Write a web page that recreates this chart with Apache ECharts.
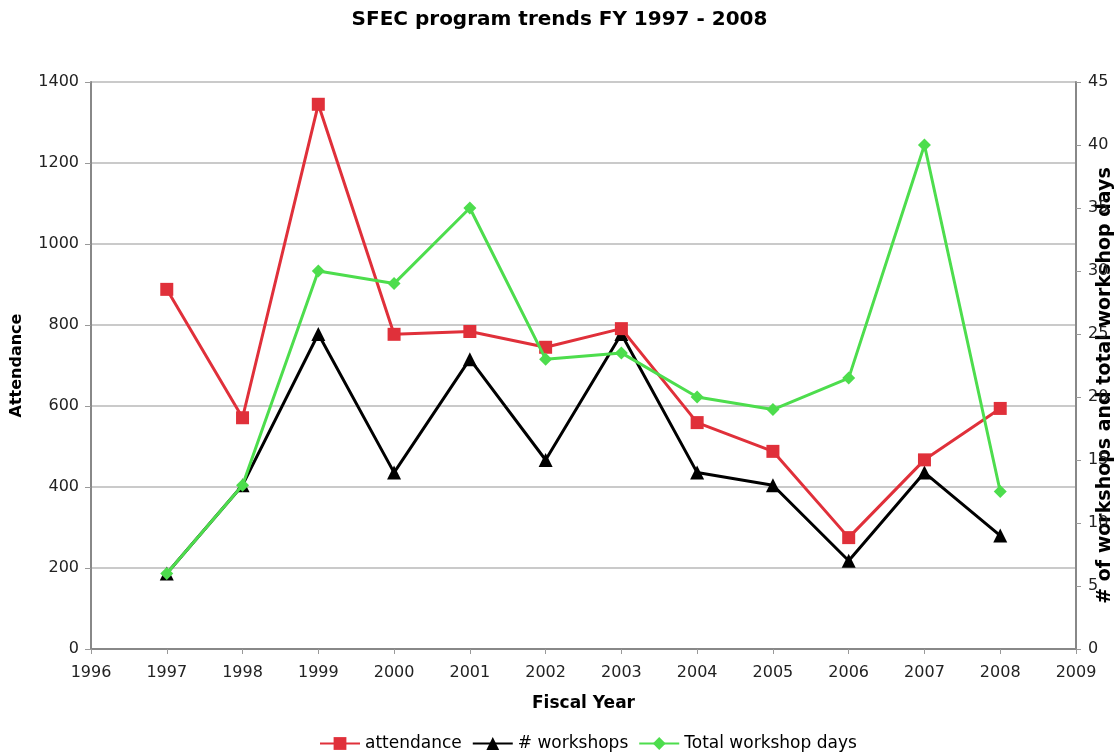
<!DOCTYPE html>
<html>
<head>
<meta charset="utf-8">
<script src="https://cdn.jsdelivr.net/npm/echarts@6/dist/echarts.min.js"></script>
<style>html,body{margin:0;padding:0;background:#fff;}#c{width:1119px;height:755px;}</style>
</head>
<body>
<div id="c"></div>
<script>
const years = [1997,1998,1999,2000,2001,2002,2003,2004,2005,2006,2007,2008];
const attendance = [888,571,1345,777,784,745,791,559,488,275,467,594];
const workshops = [6,13,25,14,23,15,25,14,13,7,14,9];
const workshopDays = [6,13,30,29,35,23,23.5,20,19,21.5,40,12.5];
const seriesNames = ['attendance','# workshops','Total workshop days'];
const leftTicks = {min:0,max:1400,interval:200};
const rightTicks = {min:0,max:45,interval:5};
const xTicks = {min:1996,max:2009,interval:1};

const font = "'DejaVu Sans', Verdana, sans-serif";
const pair = (arr) => years.map((y,i)=>[y,arr[i]]);
const chart = echarts.init(document.getElementById('c'));
chart.setOption({
  animation:false,
  backgroundColor:'#fff',
  title:{text:'SFEC program trends FY 1997 - 2008',left:'center',top:5,
    textStyle:{fontFamily:font,fontSize:20,fontWeight:'bold',color:'#000'}},
  grid:{left:91,right:43,top:82,bottom:106,containLabel:false,outerBoundsMode:'none'},
  legend:{top:730,left:314,itemWidth:40,itemHeight:16,itemGap:10,
    textStyle:{fontFamily:font,fontSize:17,color:'#000'},
    data:seriesNames},
  xAxis:{type:'value',min:xTicks.min,max:xTicks.max,interval:xTicks.interval,
    name:'Fiscal Year',nameLocation:'middle',nameGap:46,
    nameTextStyle:{fontFamily:font,fontSize:17,fontWeight:'bold',color:'#000'},
    axisLine:{lineStyle:{color:'#888',width:2}},
    axisTick:{show:true,inside:false,length:5,lineStyle:{color:'#999'}},
    axisLabel:{fontFamily:font,fontSize:16,color:'#222',margin:16,formatter:v=>String(v)},
    splitLine:{show:false}},
  yAxis:[
    {type:'value',position:'left',min:leftTicks.min,max:leftTicks.max,interval:leftTicks.interval,
     name:'Attendance',nameLocation:'middle',nameGap:66,nameRotate:90,
     nameTextStyle:{fontFamily:font,fontSize:16,fontWeight:'bold',color:'#000'},
     axisLine:{show:true,lineStyle:{color:'#888',width:2}},
     axisTick:{show:true,length:6,lineStyle:{color:'#999'}},
     axisLabel:{fontFamily:font,fontSize:16,color:'#222',margin:12,formatter:v=>String(v)},
     splitLine:{show:true,lineStyle:{color:'#b8b8b8',width:1.5}}},
    {type:'value',position:'right',min:rightTicks.min,max:rightTicks.max,interval:rightTicks.interval,
     name:'# of workshops and total workshop days',nameLocation:'middle',nameGap:20,nameRotate:90,
     nameMoveOverlap:false,
     nameTextStyle:{fontFamily:font,fontSize:19,fontWeight:'bold',color:'#000',padding:[0,40,0,0]},
     axisLine:{show:true,lineStyle:{color:'#888',width:2}},
     axisTick:{show:true,length:5,lineStyle:{color:'#999'}},
     axisLabel:{fontFamily:font,fontSize:16,color:'#222',margin:12,formatter:v=>String(v)},
     splitLine:{show:false}}
  ],
  series:[
    {name:seriesNames[0],type:'line',yAxisIndex:0,data:pair(attendance),
     symbol:'rect',symbolSize:13,lineStyle:{color:'#e0303a',width:3},
     itemStyle:{color:'#e0303a'},z:3},
    {name:seriesNames[1],type:'line',yAxisIndex:1,data:pair(workshops),
     symbol:'triangle',symbolSize:14,lineStyle:{color:'#000',width:3},
     itemStyle:{color:'#000'},z:2},
    {name:seriesNames[2],type:'line',yAxisIndex:1,data:pair(workshopDays),
     symbol:'diamond',symbolSize:13,lineStyle:{color:'#4ddd4d',width:3},
     itemStyle:{color:'#4ddd4d'},z:4}
  ]
});
</script>
</body>
</html>
